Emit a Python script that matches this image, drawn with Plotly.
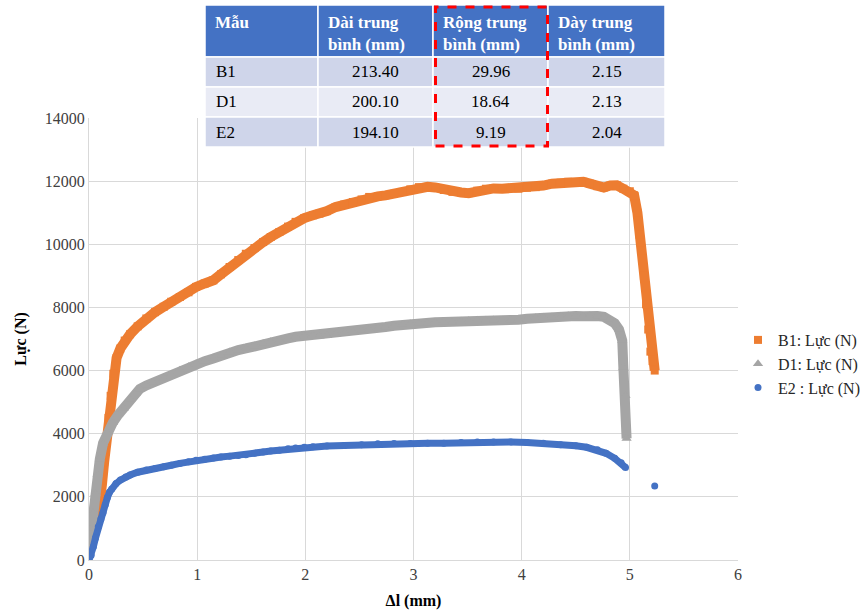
import plotly.graph_objects as go

# ---------------- data ----------------
b1_x = [0.00, 0.02, 0.05, 0.08, 0.10, 0.12, 0.14, 0.16, 0.18, 0.20, 0.225, 0.255, 0.29, 0.33, 0.38,
        0.45, 0.53, 0.61, 0.69, 0.76, 0.84, 0.92, 0.99, 1.07, 1.15, 1.22, 1.30, 1.38, 1.45, 1.53,
        1.61, 1.68, 1.76, 1.84, 1.91, 1.99, 2.07, 2.13, 2.20, 2.28, 2.36, 2.44, 2.52, 2.59, 2.67,
        2.74, 2.82, 2.90, 2.97, 3.05, 3.13, 3.20, 3.28, 3.36, 3.44, 3.51, 3.59, 3.67, 3.74, 3.82,
        3.90, 3.97, 4.05, 4.13, 4.20, 4.28, 4.36, 4.43, 4.50, 4.57, 4.63, 4.70, 4.76, 4.82, 4.88,
        4.94, 5.00, 5.04, 5.07, 5.09, 5.11, 5.13, 5.15, 5.17, 5.19, 5.21, 5.23]
b1_y = [300, 700, 900, 1300, 1700, 2400, 3100, 3800, 4500, 5200, 5900, 6400, 6700, 6950, 7150,
        7400, 7650, 7850, 8020, 8180, 8330, 8480, 8650, 8760, 8860, 9050, 9280, 9500, 9700, 9880,
        10070, 10230, 10390, 10560, 10710, 10830, 10920, 10970, 11050, 11180, 11260, 11340, 11420, 11500, 11520,
        11550, 11600, 11660, 11740, 11810, 11820, 11800, 11720, 11660, 11640, 11620, 11700, 11760, 11770, 11760,
        11770, 11760, 11790, 11810, 11860, 11920, 11950, 11980, 11950, 11980, 11920, 11840, 11800, 11860, 11870,
        11760, 11680, 11550, 11000, 10300, 9800, 9000, 8100, 7300, 6600, 6300, 6000]

d1_x = [0.00, 0.02, 0.04, 0.06, 0.08, 0.10, 0.13, 0.17, 0.22, 0.27, 0.32, 0.38, 0.43, 0.47, 0.53,
        0.59, 0.69, 0.76, 0.84, 0.92, 0.99, 1.07, 1.15, 1.22, 1.30, 1.38, 1.45, 1.53, 1.61, 1.68,
        1.76, 1.84, 1.91, 1.99, 2.07, 2.13, 2.20, 2.28, 2.36, 2.44, 2.52, 2.59, 2.67, 2.74, 2.82,
        2.90, 2.97, 3.05, 3.13, 3.20, 3.28, 3.36, 3.44, 3.51, 3.59, 3.67, 3.74, 3.82, 3.90, 3.97,
        4.05, 4.13, 4.20, 4.28, 4.36, 4.43, 4.50, 4.57, 4.63, 4.70, 4.76, 4.81, 4.86, 4.90, 4.93,
        4.94, 4.96, 4.97]
d1_y = [300, 1000, 1500, 2100, 2700, 3200, 3700, 4050, 4350, 4600, 4800, 5080, 5280, 5420, 5530,
        5620, 5750, 5880, 6010, 6120, 6220, 6300, 6380, 6480, 6590, 6650, 6700, 6780, 6860, 6910,
        6960, 7020, 7070, 7100, 7120, 7090, 7100, 7150, 7190, 7220, 7270, 7310, 7350, 7380, 7420,
        7460, 7480, 7490, 7510, 7530, 7540, 7540, 7560, 7580, 7590, 7590, 7600, 7590, 7600, 7610,
        7640, 7670, 7690, 7700, 7720, 7740, 7730, 7720, 7740, 7730, 7700, 7620, 7500, 7300, 6950,
        6100, 5200, 3850]

e2_x = [0.00, 0.02, 0.04, 0.06, 0.086, 0.11, 0.13, 0.15, 0.17, 0.19, 0.21, 0.25, 0.29, 0.34, 0.38,
        0.45, 0.53, 0.61, 0.69, 0.76, 0.84, 0.92, 0.99, 1.07, 1.15, 1.22, 1.30, 1.38, 1.45, 1.53,
        1.61, 1.68, 1.76, 1.84, 1.91, 1.99, 2.07, 2.20, 2.36, 2.52, 2.67, 2.82, 2.97, 3.13, 3.28,
        3.44, 3.59, 3.74, 3.90, 4.05, 4.20, 4.36, 4.50, 4.60, 4.70, 4.78, 4.86, 4.92, 4.96, 5.23]
e2_y = [0, 150, 420, 700, 1050, 1300, 1500, 1750, 1980, 2150, 2250, 2420, 2530, 2630, 2690,
        2780, 2850, 2900, 2950, 3000, 3060, 3110, 3160, 3190, 3230, 3260, 3290, 3310, 3330, 3380,
        3420, 3450, 3480, 3520, 3550, 3570, 3590, 3610, 3630, 3650, 3680, 3690, 3690, 3700, 3700,
        3720, 3740, 3740, 3740, 3720, 3700, 3650, 3620, 3570, 3490, 3380, 3220, 3080, 2930, 2340]

series_names = ["B1: Lực (N)", "D1: Lực (N)", "E2 : Lực (N)"]
series_colors = ["#ED7D31", "#A5A5A5", "#4472C4"]

table_header = ["Mẫu", "Dài trung<br>bình (mm)", "Rộng trung<br>bình (mm)", "Dày trung<br>bình (mm)"]
table_samples = ["B1", "D1", "E2"]
table_length = ["213.40", "200.10", "194.10"]
table_width = ["29.96", "18.64", "9.19"]
table_thick = ["2.15", "2.13", "2.04"]

# ---------------- layout geometry ----------------
W, H = 864, 611
L, R, T, B = 89, 126, 118, 51
PW, PH = W - L - R, H - T - B


def px(xp):
    return (xp - L) / PW


def py(yp):
    return (H - B - yp) / PH


FONT = "Liberation Serif, Times New Roman, serif"

fig = go.Figure()

fig.add_trace(go.Scatter(x=b1_x, y=b1_y, mode="lines", line=dict(color=series_colors[0], width=10),
                         showlegend=False, hoverinfo="skip"))
fig.add_trace(go.Scatter(x=b1_x, y=b1_y, mode="markers", name=series_names[0],
                         marker=dict(symbol="square", size=8, color=series_colors[0])))
fig.add_trace(go.Scatter(x=d1_x, y=d1_y, mode="lines", line=dict(color=series_colors[1], width=10),
                         showlegend=False, hoverinfo="skip"))
fig.add_trace(go.Scatter(x=d1_x, y=d1_y, mode="markers", name=series_names[1],
                         marker=dict(symbol="triangle-up", size=9, color=series_colors[1])))
fig.add_trace(go.Scatter(x=e2_x[:-1], y=e2_y[:-1], mode="lines", line=dict(color=series_colors[2], width=7),
                         showlegend=False, hoverinfo="skip"))
fig.add_trace(go.Scatter(x=e2_x, y=e2_y, mode="markers", name=series_names[2],
                         marker=dict(symbol="circle", size=7, color=series_colors[2])))

# ---------------- table overlay ----------------
col_edges = [205, 318, 433, 548, 665]
row_edges = [5, 57, 87, 117, 147]
row_fills = ["#4472C4", "#CFD5EA", "#E9EBF5", "#CFD5EA"]
shapes = []
for r in range(4):
    for c in range(4):
        shapes.append(dict(type="rect", xref="paper", yref="paper", layer="above",
                           x0=px(col_edges[c]), x1=px(col_edges[c + 1]),
                           y0=py(row_edges[r + 1]), y1=py(row_edges[r]),
                           fillcolor=row_fills[r], line=dict(color="white", width=1.5)))
shapes.append(dict(type="rect", xref="paper", yref="paper", layer="above",
                   x0=px(435.5), x1=px(547.5), y0=py(146), y1=py(7),
                   line=dict(color="#FF0000", width=3, dash="dash"), fillcolor="rgba(0,0,0,0)"))

annotations = []
for c in range(4):
    annotations.append(dict(xref="paper", yref="paper", x=px(col_edges[c] + 8), y=py(row_edges[0] + 6),
                            xanchor="left", yanchor="top", align="left", showarrow=False,
                            text="<b>" + table_header[c] + "</b>",
                            font=dict(family=FONT, size=17, color="white")))
cols = [table_samples, table_length, table_width, table_thick]
for r in range(3):
    yc = py((row_edges[r + 1] + row_edges[r + 2]) / 2)
    for c in range(4):
        if c == 0:
            annotations.append(dict(xref="paper", yref="paper", x=px(col_edges[0] + 9), y=yc,
                                    xanchor="left", yanchor="middle", showarrow=False,
                                    text=cols[c][r], font=dict(family=FONT, size=17, color="black")))
        else:
            annotations.append(dict(xref="paper", yref="paper",
                                    x=px((col_edges[c] + col_edges[c + 1]) / 2), y=yc,
                                    xanchor="center", yanchor="middle", showarrow=False,
                                    text=cols[c][r], font=dict(family=FONT, size=17, color="black")))

fig.update_layout(
    width=W, height=H,
    margin=dict(l=L, r=R, t=T, b=B, pad=0, autoexpand=False),
    paper_bgcolor="white", plot_bgcolor="white",
    font=dict(family=FONT, size=16, color="#404040"),
    shapes=shapes, annotations=annotations,
    legend=dict(x=px(738), y=py(364), xanchor="left", yanchor="middle",
                font=dict(family=FONT, size=16, color="#262626"),
                bgcolor="rgba(0,0,0,0)", itemwidth=30, tracegroupgap=4),
    xaxis=dict(range=[0, 6], dtick=1, tick0=0, showgrid=True, gridcolor="#D9D9D9", gridwidth=1,
               zeroline=False, showline=True, linecolor="#D9D9D9", ticks="",
               tickfont=dict(family=FONT, size=16, color="#404040"),
               title=dict(text="<b>Δl (mm)</b>", font=dict(family=FONT, size=16, color="black"), standoff=12)),
    yaxis=dict(range=[0, 14000], dtick=2000, tick0=0, tickformat="d", showgrid=True, gridcolor="#D9D9D9",
               gridwidth=1, zeroline=False, showline=True, linecolor="#D9D9D9", ticks="",
               tickfont=dict(family=FONT, size=16, color="#404040"),
               title=dict(text="<b>Lực (N)</b>", font=dict(family=FONT, size=16, color="black"), standoff=14)),
)

fig.write_html("out.html")
